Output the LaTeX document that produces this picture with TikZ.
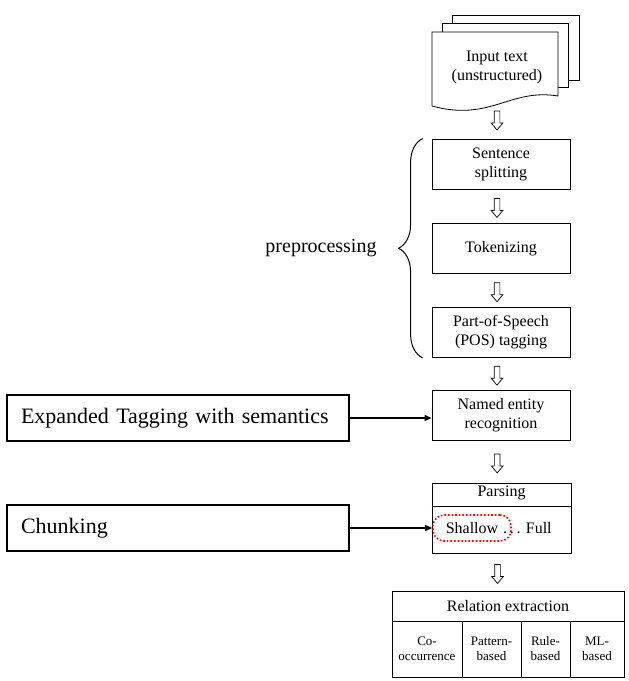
\documentclass[tikz,border=0pt]{standalone}
\usepackage{fontspec}
\setmainfont{Liberation Serif}
\usetikzlibrary{shapes.arrows,arrows.meta,decorations.pathreplacing}

\tikzset{
  stepbox/.style={draw, line width=0.8pt, minimum width=138pt, minimum height=50pt,
    align=center, inner sep=2pt, font=\fontsize{16}{19}\selectfont},
  sidebox/.style={draw, line width=1.5pt, minimum width=342pt, minimum height=46pt,
    text width=314pt, inner sep=0pt, align=left, font=\fontsize{22}{26}\selectfont},
  hollow/.style={single arrow, draw, line width=0.7pt, shape border rotate=270,
    minimum height=19pt, inner sep=2.5pt, single arrow head extend=3pt,
    single arrow tip angle=80, xshift=-4pt},
  cell/.style={draw, line width=0.8pt, minimum height=56pt, outer sep=0pt, inner sep=1pt,
    align=center, anchor=north west, font=\fontsize{13}{15}\selectfont},
  conn/.style={line width=1.2pt, -{Triangle[length=7pt,width=6pt]}},
  brace/.style={decorate, decoration={brace, amplitude=24pt}, line width=1pt}
}

\begin{document}
\begin{tikzpicture}[x=1pt, y=-1pt]
    \useasboundingbox (0,0) rectangle (629,681);

    % Pila de documentos
    \draw[line width=0.8pt] (452,23) -- (452,15) -- (579,15) -- (579,80) -- (568,80);
    \draw[line width=0.8pt] (442,32) -- (442,23) -- (568,23) -- (568,87) -- (558,87);
    \draw[line width=0.8pt, fill=white] (432,32) -- (558,32) -- (558,96)
        .. controls (510,88) and (490,122) .. (432,106) -- cycle;
    \node[align=center, font=\fontsize{16}{19}\selectfont] (in) at (497,67) {Input text\\(unstructured)};
    \coordinate (docb) at (501,99);

    % Pasos
    \node[stepbox] (ss) at (501,164) {Sentence\\splitting};
    \node[stepbox] (tok) at (501,248.5) {Tokenizing};
    \node[stepbox] (pos) at (501,332.5) {Part-of-Speech\\(POS) tagging};
    \node[stepbox] (ner) at (501,415.5) {Named entity\\recognition};

    % Parsing
    \node[stepbox, minimum width=139pt, minimum height=70pt] (parse) at (501.5,518) {};
    \node[font=\fontsize{16}{19}\selectfont, anchor=north] (ptitle) at (parse.north) {Parsing};
    \draw[line width=0.8pt] ([yshift=-24pt]parse.north west) -- ([yshift=-24pt]parse.north east);
    \node[draw=red, dotted, line width=1.6pt, rounded corners=11pt, minimum width=78pt,
        minimum height=26pt, font=\fontsize{16}{19}\selectfont] (shallow) at (472,528) {Shallow};
    \node[font=\fontsize{16}{19}\selectfont, anchor=west, inner sep=0pt] (full) at (503,528) {.\,.\,. Full};

    % Relation extraction
    \node[stepbox, minimum width=232pt, minimum height=30pt, outer sep=0pt] (rel) at (508,606) {Relation extraction};
    \node[cell, minimum width=70pt] (co) at (rel.south west) {Co-\\occurrence};
    \node[cell, minimum width=59pt] (pat) at (co.north east) {Pattern-\\based};
    \node[cell, minimum width=49pt] (rule) at (pat.north east) {Rule-\\based};
    \node[cell, minimum width=54pt] (ml) at (rule.north east) {ML-\\based};

    % Flechas huecas
    \path (docb) -- node[hollow] {} (ss.north -| docb);
    \path (ss) -- node[hollow] {} (tok);
    \path (tok) -- node[hollow] {} (pos);
    \path (pos) -- node[hollow] {} (ner);
    \path (ner) -- node[hollow] {} (parse);
    \path (parse.south) -- node[hollow] {} (parse.south |- rel.north);

    % Llave
    \draw[brace] ([xshift=-9pt]pos.south west) -- ([xshift=-9pt]ss.north west);
    \node[font=\fontsize{20}{24}\selectfont] (pre) at (321,248) {preprocessing};

    % Cajas laterales
    \node[sidebox] (exp) at (178,418) {Expanded Tagging with semantics};
    \node[sidebox] (chunk) at (178,528) {Chunking};
    \draw[conn] (exp.east) -- (exp.east -| ner.west);
    \draw[conn] (chunk.east) -- (shallow.west);
\end{tikzpicture}
\end{document}
